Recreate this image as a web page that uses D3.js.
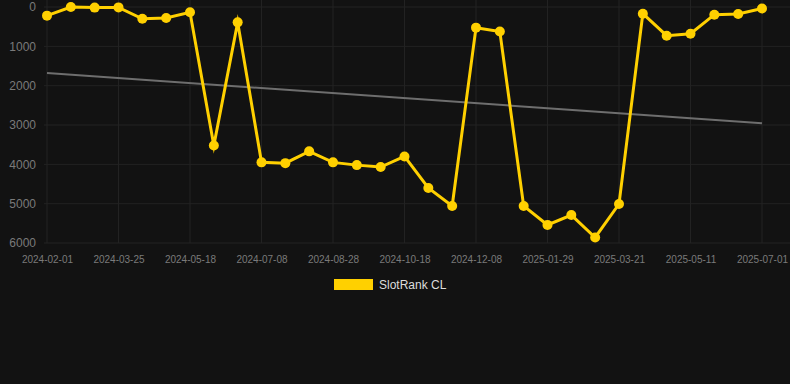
<!DOCTYPE html>
<html>
<head>
<meta charset="utf-8">
<script src="https://cdn.jsdelivr.net/npm/d3@7"></script>
<style>
  html, body { margin: 0; padding: 0; background: #121212; }
  svg { display: block; }
</style>
</head>
<body>
<svg id="chart"></svg>
<script>
const categories = [
  "2024-02-01", "2024-02-18", "2024-03-07", "2024-03-25", "2024-04-12", "2024-04-30",
  "2024-05-18", "2024-06-04", "2024-06-21", "2024-07-08", "2024-07-25", "2024-08-11",
  "2024-08-28", "2024-09-14", "2024-10-01", "2024-10-18", "2024-11-04", "2024-11-21",
  "2024-12-08", "2024-12-25", "2025-01-11", "2025-01-29", "2025-02-15", "2025-03-04",
  "2025-03-21", "2025-04-07", "2025-04-24", "2025-05-11", "2025-05-28", "2025-06-14",
  "2025-07-01"
]
const rankValues = [
  220, 0, 15, 10, 300, 280, 135, 3520, 390, 3950, 3970, 3670, 3950, 4020, 4070, 3800,
  4600, 5060, 525, 625, 5060, 5540, 5290, 5860, 5010, 170, 730, 680, 195, 180, 40
]
const xTickLabels = categories.filter((d, i) => i % 3 === 0)
const yTickValues = [0, 1000, 2000, 3000, 4000, 5000, 6000]
const seriesName = "SlotRank CL"

const dimensions = {
  width: 790,
  height: 384,
  margin: { top: 7, right: 28, bottom: 141, left: 47 },
}

const svg = d3.select("#chart")
  .attr("width", dimensions.width)
  .attr("height", dimensions.height)

svg.append("rect")
  .attr("width", dimensions.width)
  .attr("height", dimensions.height)
  .attr("fill", "#121212")

// scales
const x = d3.scalePoint()
  .domain(categories)
  .range([dimensions.margin.left, dimensions.width - dimensions.margin.right])
const y = d3.scaleLinear()
  .domain([0, 6000])
  .range([dimensions.margin.top, dimensions.height - dimensions.margin.bottom])

const gridColor = "#222222"
const labelColor = "#7a7a7a"

// horizontal grid
svg.append("g")
  .selectAll("line")
  .data(yTickValues)
  .join("line")
  .attr("x1", 44)
  .attr("x2", dimensions.width)
  .attr("y1", (d) => y(d))
  .attr("y2", (d) => y(d))
  .attr("stroke", gridColor)
  .attr("stroke-width", 1)

// vertical grid
svg.append("g")
  .selectAll("line")
  .data(xTickLabels)
  .join("line")
  .attr("x1", (d) => x(d))
  .attr("x2", (d) => x(d))
  .attr("y1", 0)
  .attr("y2", y(6000))
  .attr("stroke", gridColor)
  .attr("stroke-width", 1)

// axes
const yAxis = svg.append("g")
  .attr("transform", "translate(36,0)")
  .call(d3.axisLeft(y).tickValues(yTickValues).tickSize(0).tickPadding(0).tickFormat(d3.format("d")))
yAxis.select(".domain").remove()
yAxis.selectAll("text")
  .attr("fill", labelColor)
  .style("font-family", "'Liberation Sans', Arial, sans-serif")
  .style("font-size", "12px")

const xAxis = svg.append("g")
  .attr("transform", `translate(0,${y(6000) + 13})`)
  .call(d3.axisBottom(x).tickValues(xTickLabels).tickSize(0).tickPadding(0))
xAxis.select(".domain").remove()
xAxis.selectAll("text")
  .attr("fill", labelColor)
  .style("font-family", "'Liberation Sans', Arial, sans-serif")
  .style("font-size", "10px")

// trend line (least squares over the series)
const n = rankValues.length
const meanI = d3.mean(rankValues, (d, i) => i)
const meanV = d3.mean(rankValues)
const slope = d3.sum(rankValues, (d, i) => (i - meanI) * (d - meanV)) /
  d3.sum(rankValues, (d, i) => (i - meanI) * (i - meanI))
const intercept = meanV - slope * meanI
const trend = [0, n - 1].map((i) => ({ cat: categories[i], v: intercept + slope * i }))

svg.append("path")
  .datum(trend)
  .attr("fill", "none")
  .attr("stroke", "#6e6e6e")
  .attr("stroke-width", 2)
  .attr("d", d3.line().x((d) => x(d.cat)).y((d) => y(d.v)))

// series line
const gold = "#ffd000"
const series = rankValues.map((v, i) => ({ cat: categories[i], v }))

svg.append("path")
  .datum(series)
  .attr("fill", "none")
  .attr("stroke", gold)
  .attr("stroke-width", 3)
  .attr("stroke-linejoin", "miter")
  .attr("stroke-miterlimit", 10)
  .attr("d", d3.line().x((d) => x(d.cat)).y((d) => y(d.v)))

svg.append("g")
  .selectAll("circle")
  .data(series)
  .join("circle")
  .attr("cx", (d) => x(d.cat))
  .attr("cy", (d) => y(d.v))
  .attr("r", 5)
  .attr("fill", gold)

// legend
const legend = svg.append("g").attr("transform", "translate(334,279)")
legend.append("rect")
  .attr("width", 39)
  .attr("height", 11)
  .attr("fill", gold)
legend.append("text")
  .attr("x", 45)
  .attr("y", 6)
  .attr("dy", "0.35em")
  .attr("fill", "#dddddd")
  .style("font-family", "'Liberation Sans', Arial, sans-serif")
  .style("font-size", "12px")
  .text(seriesName)
</script>
</body>
</html>
